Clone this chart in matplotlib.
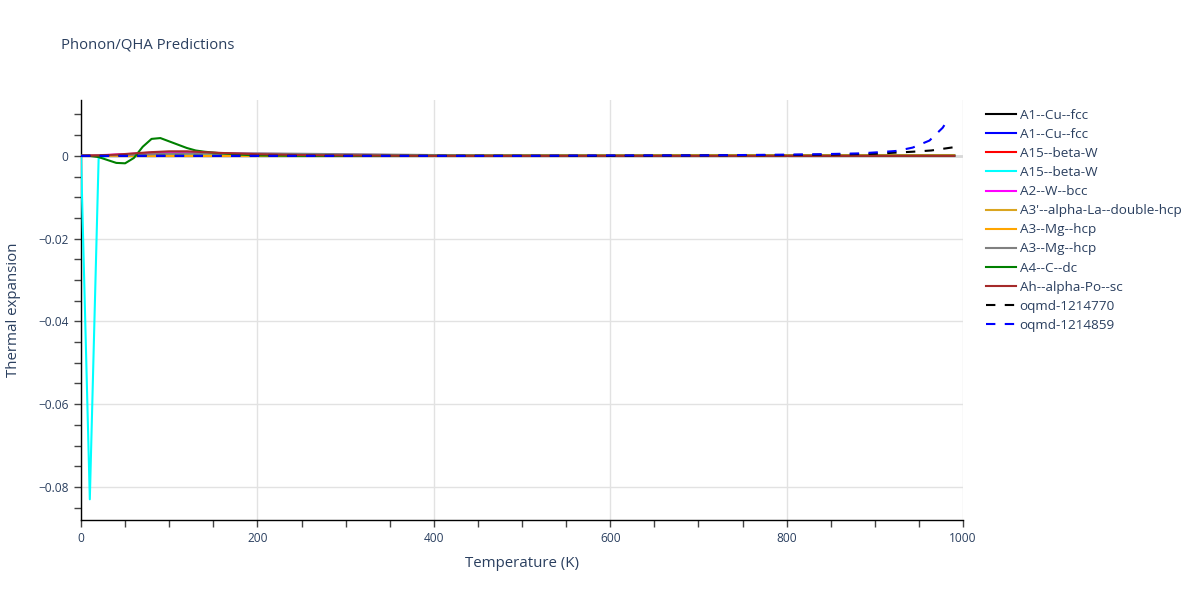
import matplotlib
matplotlib.use("Agg")
import matplotlib.pyplot as plt
from matplotlib.ticker import MultipleLocator, FuncFormatter

plt.rcParams['font.family'] = ['Open Sans', 'DejaVu Sans']

TXT = '#2a3f5f'

# ---- data ----
labels = ['A1--Cu--fcc', 'A1--Cu--fcc', 'A15--beta-W', 'A15--beta-W', 'A2--W--bcc',
          "A3'--alpha-La--double-hcp", 'A3--Mg--hcp', 'A3--Mg--hcp', 'A4--C--dc',
          'Ah--alpha-Po--sc', 'oqmd-1214770', 'oqmd-1214859']
colors = ['black', 'blue', 'red', 'cyan', 'magenta', 'goldenrod', 'orange', 'gray',
          'green', 'brown', 'black', 'blue']
dashed = [False] * 10 + [True, True]

cu1_T = [0, 100, 200, 300, 400, 500, 600, 700, 800, 900, 990]
cu1_v = [0, 0.0001, 0.0001, 0.0001, 0.0001, 0.0001, 0.0001, 0.0001, 0.0001, 0.0001, 0.0001]

cu2_T = [0, 100, 200, 300, 400, 500, 600, 700, 800, 900, 990]
cu2_v = [0, 0, 0, 0, 0, 0, 0, 0, 0, 0, 0]

bw1_T = [0, 50, 100, 150, 200, 300, 400, 600, 800, 990]
bw1_v = [0, 0.0003, 0.0006, 0.0005, 0.0004, 0.0002, 0.0001, 0.0, 0.0, 0.0]

bw2_T = [0, 10, 20, 30, 50, 100, 150, 200, 300, 400, 500, 600, 700, 800, 900, 990]
bw2_v = [0, -0.083, -0.0005, 0.0, 0.0001, 0.0002, 0.0002, 0.0001, 0.0001, 0.0001,
         0.0, 0.0, 0.0, 0.0, 0.0, 0.0]

wbcc_T = [0, 50, 80, 100, 120, 150, 200, 300, 400, 500, 700, 990]
wbcc_v = [0, 0.0004, 0.0008, 0.0009, 0.0009, 0.0007, 0.0005, 0.0003, 0.0001, 0.0, 0.0, 0.0]

la_T = [0, 50, 200, 400, 600, 800, 990]
la_v = [0, 0.0001, 0.0001, 0.0002, 0.0002, 0.0002, 0.0002]

mg1_T = [0, 100, 200, 400, 600, 800, 990]
mg1_v = [0, 0, 0, 0, 0, 0, 0]

mg2_T = [0, 50, 100, 150, 200, 250, 300, 350, 400, 450, 500, 700, 990]
mg2_v = [0, 0.0002, 0.0005, 0.0006, 0.0006, 0.0005, 0.0004, 0.0003, 0.0002, 0.0001, 0.0001, 0.0, 0.0]

c_T = [0, 10, 20, 30, 40, 50, 60, 70, 80, 90, 100, 110, 120, 130, 140, 150, 160, 180,
       200, 250, 300, 400, 500, 600, 700, 800, 900, 990]
c_v = [0, 0, -0.0003, -0.001, -0.0017, -0.0018, -0.0005, 0.0022, 0.0041, 0.0043, 0.0035,
       0.0027, 0.0019, 0.0013, 0.001, 0.0008, 0.0006, 0.0003, 0.0001, 0.0, 0.0,
       0.0, 0.0, 0.0, 0.0, 0.0, 0.0, 0.0]

po_T = [0, 20, 40, 60, 80, 100, 120, 140, 160, 200, 250, 300, 400, 500, 600, 700, 800, 900, 990]
po_v = [0, 0.0001, 0.0003, 0.0006, 0.0009, 0.0011, 0.0011, 0.0009, 0.0007, 0.0004, 0.0002,
        0.0001, 0.0, 0.0, 0.0, 0.0, 0.0, 0.0, 0.0]

oq1_T = [0, 100, 200, 300, 400, 500, 600, 700, 800, 850, 900, 925, 943, 964, 990]
oq1_v = [0, 0, 0, 0, 0, 0, 0, 0.0001, 0.0002, 0.0003, 0.0005, 0.0008, 0.001, 0.0013, 0.0021]

oq2_T = [0, 100, 200, 300, 400, 500, 600, 700, 800, 838, 883, 906, 925, 943, 962, 977, 982]
oq2_v = [0, 0, 0, 0, 0, 0, 0.0001, 0.0001, 0.0003, 0.0004, 0.0006, 0.0009, 0.0012,
         0.002, 0.0037, 0.0068, 0.0085]

series_T = [cu1_T, cu2_T, bw1_T, bw2_T, wbcc_T, la_T, mg1_T, mg2_T, c_T, po_T, oq1_T, oq2_T]
series_v = [cu1_v, cu2_v, bw1_v, bw2_v, wbcc_v, la_v, mg1_v, mg2_v, c_v, po_v, oq1_v, oq2_v]

# ---- figure ----
fig = plt.figure(figsize=(12, 6), dpi=100)
ax = fig.add_axes([81 / 1200, 1 - 520 / 600, (963 - 81) / 1200, (520 - 100) / 600])

ax.set_xlim(0, 1000)
ax.set_ylim(-0.088, 0.0135)

ax.grid(True, which='major', color='#e2e2e2', linewidth=1)
ax.set_axisbelow(True)
ax.axhline(0, color='#d8d8d8', linewidth=2, zorder=1)

handles = []
for T, v, c, d, lab in zip(series_T, series_v, colors, dashed, labels):
    ln, = ax.plot(T, v, color=c, linewidth=1.5, label=lab, zorder=3)
    if d:
        ln.set_dashes((4.5, 4.5))
    handles.append(ln)

for s in ['top', 'right']:
    ax.spines[s].set_visible(False)
for s in ['left', 'bottom']:
    ax.spines[s].set_color('black')
    ax.spines[s].set_linewidth(1)

ax.xaxis.set_major_locator(MultipleLocator(200))
ax.xaxis.set_minor_locator(MultipleLocator(50))
ax.yaxis.set_major_locator(MultipleLocator(0.02))
ax.yaxis.set_minor_locator(MultipleLocator(0.005))


def yfmt(v, pos):
    if abs(v) < 1e-12:
        return '0'
    s = f'{v:.2f}'
    return s.replace('-', '\u2212')


ax.yaxis.set_major_formatter(FuncFormatter(yfmt))
ax.tick_params(axis='both', which='major', direction='out', length=5, width=1,
               color='#444444', labelcolor=TXT, labelsize=8.6)
ax.tick_params(axis='both', which='minor', direction='out', length=5, width=1,
               color='#444444')
ax.tick_params(axis='x', which='major', pad=3.5)
ax.tick_params(axis='y', which='major', pad=4)

ax.set_xlabel('Temperature (K)', color=TXT, fontsize=10.8, labelpad=8)
ax.set_ylabel('Thermal expansion', color=TXT, fontsize=10.8, labelpad=12)

fig.text(61 / 1200, 1 - 45 / 600, 'Phonon/QHA Predictions', color=TXT, fontsize=10.7,
         va='center', ha='left')

fig.legend(handles=handles, labels=labels, loc='upper left',
           bbox_to_anchor=(986 / 1200, 1 - 109 / 600), frameon=False,
           fontsize=9.7, handlelength=2.2, handletextpad=0.3, labelspacing=0.45,
           borderpad=0, borderaxespad=0, labelcolor=TXT)

fig.savefig('out.png', dpi=100)
